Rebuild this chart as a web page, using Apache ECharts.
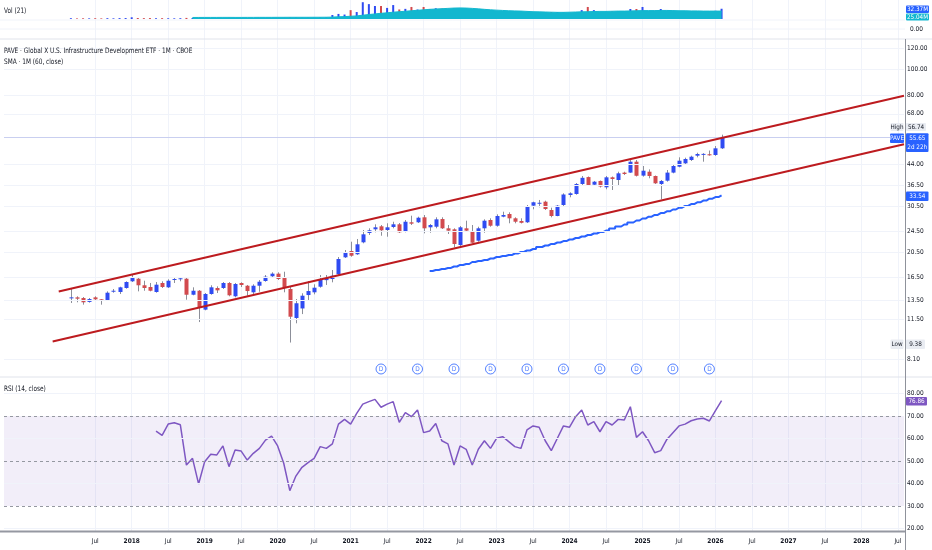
<!DOCTYPE html>
<html><head><meta charset="utf-8">
<script src="https://cdn.jsdelivr.net/npm/echarts@6/dist/echarts.min.js"></script>
<style>html,body{margin:0;padding:0;background:#fff}#c{width:932px;height:550px}</style>
</head><body><div id="c"></div>
<script>
// ---------- data ----------
const candleStart = '2017-03';
const opens = [13.83,13.87,13.79,13.33,13.87,13.64,13.56,14.61,14.53,15.04,
 15.94,16.30,15.40,15.17,14.53,15.71,15.13,16.16,16.26,16.30,
 14.19,14.69,12.47,14.28,15.04,15.04,15.71,14.00,15.71,15.34,
 14.49,15.34,15.98,16.65,17.03,16.45,14.91,11.60,12.60,14.15,
 14.49,15.21,16.10,16.26,16.94,19.62,20.72,20.14,22.34,24.22,
 25.00,25.66,24.85,25.51,26.11,24.49,26.57,26.57,27.74,25.44,
 25.57,27.33,25.22,25.00,21.82,25.22,24.49,22.65,25.22,27.10,
 25.79,27.89,28.55,27.50,26.87,26.57,30.68,31.27,31.76,29.55,
 28.06,30.86,33.65,33.95,37.02,39.30,36.79,38.00,35.97,39.22,
 38.32,40.85,40.85,44.90,39.80,41.17,39.67,37.02,38.09,40.85,
 42.99,44.27,45.56,47.29,47.96,47.89,47.57,50.41];
const highs = [14.95,14.00,13.91,13.79,14.00,13.67,14.61,14.91,15.21,15.94,
 16.88,16.55,16.02,15.71,15.84,15.94,16.22,16.40,16.50,16.40,
 15.13,14.78,14.40,15.40,15.26,15.84,15.84,15.71,15.80,15.44,
 15.53,16.12,16.83,17.23,17.23,17.32,15.21,13.67,14.37,15.98,
 15.53,16.83,16.83,17.58,19.67,20.90,22.46,22.99,24.85,25.22,
 26.11,25.95,26.34,26.70,26.40,27.10,28.13,27.89,28.30,26.18,
 27.74,27.74,25.95,25.22,25.73,26.94,25.95,25.57,27.26,27.50,
 28.47,29.12,28.97,27.74,27.50,30.86,31.76,32.23,32.03,30.15,
 30.86,34.15,34.45,37.34,39.67,39.50,38.00,38.15,39.67,39.50,
 41.17,41.17,45.56,45.56,43.26,42.00,39.83,38.32,41.78,44.01,
 46.63,46.48,47.29,48.53,48.35,49.45,51.42,56.74];
const lows = [13.21,13.29,13.02,13.25,13.48,13.02,13.48,14.44,14.28,14.95,
 15.84,14.61,14.69,14.61,14.44,15.04,15.04,15.71,15.94,13.59,
 14.12,11.20,12.40,14.19,14.40,14.91,14.00,13.87,15.17,14.07,
 14.24,14.56,15.88,16.45,16.12,14.49,9.38,11.08,12.00,13.56,
 14.24,15.08,15.44,15.80,16.83,19.50,19.72,20.03,22.15,23.80,
 24.36,23.65,23.45,25.22,24.22,24.36,25.95,26.40,24.15,24.27,
 25.22,25.07,24.01,21.39,21.51,24.49,22.15,22.46,24.27,25.57,
 25.57,27.74,26.34,26.34,26.30,26.40,29.74,30.25,29.55,27.74,
 27.99,30.60,32.99,33.74,36.70,36.38,36.38,35.90,35.35,35.14,
 36.38,40.00,40.75,39.50,39.44,38.89,37.02,32.42,37.78,40.60,
 42.77,44.01,45.17,46.63,44.90,47.28,47.20,50.10];
const closes = [13.87,13.71,13.29,13.67,13.64,13.58,14.44,14.69,15.13,15.84,
 16.40,15.40,15.04,14.69,15.48,15.17,16.02,16.26,16.36,14.19,
 14.69,12.65,14.28,15.13,14.74,15.71,14.12,15.57,15.44,14.65,
 15.34,15.88,16.59,17.03,16.26,15.08,11.73,13.18,14.07,14.65,
 15.08,16.26,16.45,16.73,19.33,20.49,19.89,21.96,23.94,24.79,
 25.44,24.79,25.44,26.11,24.36,26.70,26.25,27.64,25.22,25.95,
 27.26,25.22,24.71,22.02,25.44,24.71,22.26,25.22,26.94,25.79,
 28.06,28.30,27.50,26.70,26.45,30.60,31.60,31.46,29.81,28.06,
 30.68,33.80,34.15,37.02,39.05,36.70,37.76,36.22,39.22,38.65,
 40.60,40.36,44.90,39.75,41.53,39.67,37.24,38.00,40.85,43.26,
 45.29,45.95,46.88,47.99,48.04,47.45,50.41,55.65];
const volumes = [2.5,1.8,2.2,2.0,2.4,1.9,2.6,2.1,2.8,3.0,
 5.4,3.2,2.7,2.9,2.4,2.6,2.3,2.1,2.5,3.4,
 3.1,4.2,3.6,3.0,2.9,3.2,3.8,3.3,2.9,3.5,
 3.2,3.4,3.6,3.1,3.9,4.5,5.2,4.6,4.1,4.4,
 4.0,4.8,5.0,12.6,16.0,14.0,28.0,22.0,53.0,47.0,
 41.0,41.0,35.0,44.0,30.0,32.0,38.0,30.0,38.0,31.0,
 34.0,33.0,30.0,34.0,33.0,30.0,31.0,29.0,27.0,26.0,
 26.0,24.0,25.0,22.0,21.0,23.0,21.0,20.0,21.0,22.0,
 22.0,21.0,20.0,21.0,28.0,38.0,28.0,22.0,23.0,24.0,
 24.0,23.0,31.6,31.6,38.0,25.0,26.0,31.6,26.0,24.0,
 23.0,24.0,23.0,25.0,24.0,24.0,26.0,32.37];
const volMAStart = '2018-11';
const volMA = [4.8,4.9,5.0,5.0,5.0,5.1,5.1,5.0,5.0,5.1,5.1,5.2,5.2,5.2,5.3,5.3,5.4,5.4,5.4,5.4,5.5,5.5,5.6,
 6.0,6.8,7.5,8.7,9.8,12,14,16,18,19.5,21.5,23,24.5,26,27.5,29,30.5,31.5,32.5,33.5,34.5,35,
 34.5,33.5,32,30.5,29,28,27,26,25.5,25,24,23,22.5,22,21.5,21,21,21.5,22,22.5,23,23.5,24,24,
 24.5,25,25,25.5,26,26.5,26.5,26.5,27,27,26.5,26,26,25.5,25.5,25,25,25,25.04];
const rsiStart = '2018-05';
const rsi = [63.3,61.4,66.4,67.0,66.1,48.2,51.2,39.8,49.7,53.0,52.7,56.7,47.5,54.9,54.4,50.4,
 53.4,55.6,59.3,61.1,56.7,49.0,36.8,43.3,47.2,49.3,51.2,56.4,55.6,57.6,66.4,68.5,66.4,71.2,
 75.3,76.4,77.4,73.9,75.3,76.4,67.2,71.5,69.7,72.7,62.6,63.3,66.7,59.0,57.6,48.2,56.7,55.2,
 48.2,55.2,59.0,55.6,60.1,60.8,58.6,56.4,55.6,63.8,65.6,65.0,59.0,54.6,60.1,65.6,65.0,69.7,
 72.7,66.0,67.5,63.0,67.5,66.0,68.5,68.2,74.1,60.5,63.0,59.0,53.7,54.6,59.6,62.6,65.6,66.4,
 67.9,68.7,69.0,67.8,72.4,76.86];
const smaStart = '2022-02';
const sma60 = [17.43,17.58,17.73,17.89,18.12,18.36,18.52,18.84,19.00,19.17,19.42,19.67,19.84,
 20.01,20.28,20.54,20.81,21.08,21.45,21.73,22.02,22.30,22.59,22.89,23.19,23.49,23.80,24.11,
 24.42,24.74,25.18,25.62,26.06,26.52,26.98,27.45,27.89,28.32,28.77,29.22,29.68,30.14,30.62,
 31.10,31.59,32.08,32.59,33.07,33.54];
const dividendMonths = ['2021-06','2021-12','2022-06','2022-12','2023-06','2023-12','2024-06','2024-12','2025-06','2025-12'];
const dividendLevel = 7.46;
const trendUpper = [['2017-01', 14.60], ['2028-08', 79.5]];
const trendLower = [['2016-12', 9.47], ['2028-08', 52.2]];
const priceTicks = [120, 100, 80, 68, 44, 36.5, 30.5, 24.5, 20.5, 16.5, 13.5, 11.5, 8.1];
const lastPrice = 55.65;
const rsiTicks = [80, 70, 60, 50, 40, 30, 20];
const rsiDashed = [70, 50, 30];

// ---------- categories ----------
const CAT_START = [2016, 4], CAT_COUNT = 149;
const categories = [];
for (let k = 0; k < CAT_COUNT; k++) {
  const t = CAT_START[1] - 1 + k;
  const y = CAT_START[0] + Math.floor(t / 12), mo = t % 12 + 1;
  categories.push(y + '-' + String(mo).padStart(2, '0'));
}
const monthIndex = s => categories.indexOf(s);
const seq = (start, n) => { const i0 = monthIndex(start); return Array.from({length: n}, (_, k) => i0 + k); };
const firstLabelIdx = monthIndex('2017-07');

const FONT = "'Liberation Sans Narrow','DejaVu Sans Condensed',sans-serif";
const UP = '#2f4bf2', DOWN = '#d24a4e', WICK = '#8c8f99';
const TXT = '#131722', GRIDC = '#f0f3fa';
const AX_FS = 6.5;

const candleIdx = seq(candleStart, opens.length);
const candleData = candleIdx.map((i, k) => [i, opens[k], closes[k], lows[k], highs[k]]);
const volData = candleIdx.map((i, k) => ({value: [i, volumes[k]], itemStyle: {color: closes[k] >= opens[k] ? UP : DOWN}}));
const volMAData = seq(volMAStart, volMA.length).map((i, k) => [i, volMA[k]]);
const rsiData = seq(rsiStart, rsi.length).map((i, k) => [i, rsi[k]]);
const smaData = seq(smaStart, sma60.length).map((i, k) => [i, sma60[k]]);
const divData = dividendMonths.map(m => [monthIndex(m), dividendLevel]);

const isMark = (idx) => {
  const mo = categories[idx].slice(5);
  return idx >= firstLabelIdx && (mo === '01' || mo === '07');
};

function xAxisFor(g, showLabels) {
  return {
    type: 'category', gridIndex: g, data: categories, boundaryGap: false,
    axisLine: {show: false}, axisTick: {show: false},
    axisLabel: {
      show: showLabels, interval: (idx) => isMark(idx), margin: 6,
      color: TXT, fontSize: AX_FS, fontFamily: FONT,
      formatter: (v) => v.slice(5) === '01' ? '{b|' + v.slice(0, 4) + '}' : 'Jul',
      rich: {b: {fontWeight: 'bold', fontSize: AX_FS, fontFamily: FONT, color: TXT}}
    },
    splitLine: {show: true, interval: (idx) => isMark(idx), lineStyle: {color: GRIDC, width: 1}}
  };
}

const priceLines = priceTicks.map(v => ({yAxis: v, lineStyle: {color: GRIDC, width: 1, type: 'solid'}}));
priceLines.push({yAxis: lastPrice, lineStyle: {color: '#c9cff0', width: 1, type: 'solid'}, label: {show: false}});
const rsiLines = rsiTicks.map(v => rsiDashed.includes(v)
  ? {yAxis: v, lineStyle: {color: '#9598a1', width: 1, type: [3, 3]}}
  : {yAxis: v, lineStyle: {color: GRIDC, width: 1, type: 'solid'}});

function box(x, y, w, h, fill, text, color) {
  return {type: 'group', z: 200, children: [
    {type: 'rect', z: 200, shape: {x: x, y: y, width: w, height: h, r: 1}, style: {fill: fill}},
    {type: 'text', z: 201, x: x + w / 2, y: y + h / 2, style: {text: text, fill: color, font: '6.3px ' + FONT, align: 'center', verticalAlign: 'middle', lineHeight: 9}}
  ]};
}
function txt(x, y, text, size, sx) {
  return {type: 'text', z: 200, x: x, y: y, scaleX: sx || 1, style: {text: text, fill: TXT, font: (size || 7.5) + 'px ' + FONT, verticalAlign: 'middle'}};
}
function hline(y, x1, x2, color, w) {
  return {type: 'line', shape: {x1: x1, y1: y, x2: x2, y2: y}, style: {stroke: color, lineWidth: w || 1}, z: 100};
}

const chart = echarts.init(document.getElementById('c'), null, {renderer: 'canvas'});
chart.setOption({
  animation: false,
  backgroundColor: '#ffffff',
  grid: [
    {left: 4, top: 0, width: 900, height: 39},
    {left: 4, top: 39, width: 900, height: 338},
    {left: 4, top: 377, width: 900, height: 154.7}
  ],
  xAxis: [xAxisFor(0, false), xAxisFor(1, false), xAxisFor(2, true)],
  yAxis: [
    {type: 'value', gridIndex: 0, min: -63.2, max: 60, show: false, splitLine: {show: false}},
    {type: 'log', gridIndex: 1, min: 6.96, max: 129.9, axisLabel: {show: false}, axisLine: {show: false}, axisTick: {show: false}, splitLine: {show: false}},
    {type: 'value', gridIndex: 2, min: 18.58, max: 87.33, axisLabel: {show: false}, axisLine: {show: false}, axisTick: {show: false}, splitLine: {show: false}}
  ],
  series: [
    {type: 'bar', xAxisIndex: 0, yAxisIndex: 0, data: volData, barWidth: 2, z: 2},
    {type: 'line', xAxisIndex: 0, yAxisIndex: 0, data: volMAData, showSymbol: false, z: 3,
     lineStyle: {color: '#12b7cf', width: 1}, areaStyle: {color: '#12b7cf', opacity: 1}},
    {type: 'line', xAxisIndex: 1, yAxisIndex: 1, data: [], z: 1, silent: true,
     markLine: {silent: true, symbol: ['none', 'none'], data: priceLines,
       label: {show: true, position: 'end', distance: 3, color: TXT, fontSize: AX_FS, fontFamily: FONT,
         formatter: p => Number(p.value).toFixed(2)}}},
    {type: 'custom', xAxisIndex: 1, yAxisIndex: 1, data: candleData, z: 3,
     encode: {x: 0, y: [1, 2, 3, 4]},
     renderItem: function (params, api) {
       const x = api.value(0), o = api.value(1), c = api.value(2), l = api.value(3), h = api.value(4);
       const pO = api.coord([x, o]), pC = api.coord([x, c]), pL = api.coord([x, l]), pH = api.coord([x, h]);
       const w = 4, cx = Math.round(pO[0]) + 0.5;
       const top = Math.min(pO[1], pC[1]);
       const bh = Math.max(Math.abs(pO[1] - pC[1]), 1);
       return {type: 'group', children: [
         {type: 'line', shape: {x1: cx, y1: pH[1], x2: cx, y2: pL[1]}, style: {stroke: WICK, lineWidth: 1}},
         {type: 'rect', shape: {x: cx - w / 2, y: top, width: w, height: bh}, style: {fill: c >= o ? UP : DOWN}}
       ]};
     }},
    {type: 'line', xAxisIndex: 1, yAxisIndex: 1, data: smaData, step: 'middle', showSymbol: false, z: 4,
     lineStyle: {color: '#2962ff', width: 2}},
    {type: 'line', xAxisIndex: 1, yAxisIndex: 1, data: trendUpper, showSymbol: false, z: 5,
     lineStyle: {color: '#bd1b1f', width: 2}},
    {type: 'line', xAxisIndex: 1, yAxisIndex: 1, data: trendLower, showSymbol: false, z: 5,
     lineStyle: {color: '#bd1b1f', width: 2}},
    {type: 'scatter', xAxisIndex: 1, yAxisIndex: 1, data: divData, symbol: 'circle', symbolSize: 10, z: 6,
     itemStyle: {color: '#ffffff', borderColor: '#2962ff', borderWidth: 1},
     label: {show: true, position: 'inside', formatter: 'D', color: '#2962ff', fontSize: 6.5, fontFamily: FONT}},
    {type: 'line', xAxisIndex: 2, yAxisIndex: 2, data: [], z: 1, silent: true,
     markArea: {silent: true, itemStyle: {color: 'rgba(126,87,194,0.1)'}, data: [[{yAxis: 30}, {yAxis: 70}]]},
     markLine: {silent: true, symbol: ['none', 'none'], data: rsiLines,
       label: {show: true, position: 'end', distance: 3, color: TXT, fontSize: AX_FS, fontFamily: FONT,
         formatter: p => Number(p.value).toFixed(2)}}},
    {type: 'line', xAxisIndex: 2, yAxisIndex: 2, data: rsiData, showSymbol: false, z: 4,
     lineStyle: {color: '#7e57c2', width: 1.5}}
  ],
  graphic: [
    hline(20, 0, 905, GRIDC), hline(29, 0, 905, GRIDC),
    hline(39, 0, 932, '#e0e3eb'), hline(377, 0, 932, '#e0e3eb'),
    hline(531.5, 0, 905, '#9598a1', 2),
    {type: 'line', shape: {x1: 905.5, y1: 39, x2: 905.5, y2: 550}, style: {stroke: '#8f929b', lineWidth: 1}, z: 100},
    txt(4, 11, 'Vol (21)', 7.5, 0.86),
    txt(4, 51.5, 'PAVE · Global X U.S. Infrastructure Development ETF · 1M · CBOE', 7.5, 0.86),
    txt(4, 62.5, 'SMA · 1M (60, close)', 7.5, 0.86),
    txt(4, 389, 'RSI (14, close)', 7.5, 0.86),
    txt(910, 29, '0.00', AX_FS),
    box(906, 5.5, 23, 7.5, '#2962ff', '32.37M', '#ffffff'),
    box(906, 13.5, 23, 7, '#12b7cf', '25.04M', '#ffffff'),
    box(890.5, 123, 13, 8, '#e9ecf2', 'High', TXT),
    box(906, 123, 20, 8, '#e9ecf2', '56.74', TXT),
    box(890, 133.5, 14, 9.5, '#2962ff', 'PAVE', '#ffffff'),
    box(906, 133.3, 22.5, 18.7, '#2962ff', '55.65\n2d 22h', '#ffffff'),
    box(906, 191.5, 22.5, 9.5, '#2962ff', '33.54', '#ffffff'),
    box(890.5, 339.5, 13, 9.5, '#e9ecf2', 'Low', TXT),
    box(906, 339.5, 19, 9.5, '#e9ecf2', '9.38', TXT),
    box(906, 397, 21, 8.5, '#7e57c2', '76.86', '#ffffff')
  ]
});
</script></body></html>
